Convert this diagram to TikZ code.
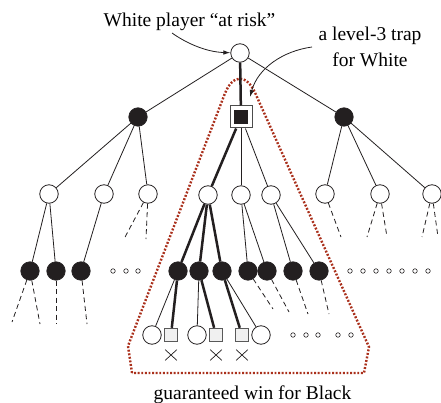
\documentclass[tikz,border=0pt]{standalone}
\usepackage{fontspec}
\setmainfont{Liberation Serif}
\usetikzlibrary{arrows.meta,shapes.misc}
\definecolor{trapred}{RGB}{170,48,28}
\definecolor{nodeblack}{RGB}{35,31,32}
\begin{document}
\begin{tikzpicture}[x=1pt,y=-1pt,
 wn/.style={circle,draw=nodeblack,fill=white,line width=0.8pt,minimum size=18.5pt,inner sep=0pt},
 bn/.style={circle,draw=nodeblack,fill=nodeblack,line width=0.6pt,minimum size=18.5pt,inner sep=0pt},
 dotn/.style={circle,draw=nodeblack,fill=white,line width=0.6pt,minimum size=4.5pt,inner sep=0pt},
 lsq/.style={rectangle,draw=black!65,fill=black!6,line width=0.9pt,minimum size=13.5pt,inner sep=0pt},
 trapsq/.style={rectangle,draw=black!70,fill=white,line width=1pt,minimum size=22pt,inner sep=0pt},
 trapin/.style={rectangle,fill=nodeblack,minimum size=14.5pt,inner sep=0pt},
 xmark/.style={cross out,draw=nodeblack,line width=0.7pt,minimum width=11pt,minimum height=10pt,inner sep=0pt},
 thinedge/.style={draw=nodeblack,line width=0.8pt},
 thickedge/.style={draw=nodeblack,line width=2.5pt},
 dashedge/.style={draw=nodeblack,line width=0.8pt,dash pattern=on 5pt off 3.5pt},
 lbl/.style={font=\fontsize{19.5}{23}\selectfont,inner sep=0pt,anchor=base},
 callout/.style={draw=nodeblack,line width=0.8pt,-{Latex[length=7pt,width=4.5pt]}},
 trapline/.style={draw=trapred,line width=2.4pt,dash pattern=on 1.9pt off 1.7pt},
]
\fill[white] (0,0) rectangle (441,403);
\useasboundingbox (0,0) rectangle (441,403);

% trap region outline
\draw[trapline] (132,373) -- (128,346) -- (224.6,94.3)
  .. controls (232.5,73.8) and (246.4,73.4) .. (255.4,93.5)
  -- (369,347) -- (364,373) -- cycle;

% nodes
\node[wn] (root) at (240,53) {};
\node[bn] (b1) at (138,117) {};
\node[trapsq] (sq) at (241,117) {};
\node[trapin] (sqin) at (241,117) {};
\node[bn] (b2) at (344,117) {};

\node[wn] (w1) at (49,194) {};
\node[wn] (w2) at (104,194) {};
\node[wn] (w3) at (148,194) {};
\node[wn] (w4) at (208,195) {};
\node[wn] (w5) at (241,195) {};
\node[wn] (w6) at (271,195) {};
\node[wn] (w7) at (325,194) {};
\node[wn] (w8) at (380,194) {};
\node[wn] (w9) at (432,194) {};

\node[bn] (k1) at (30,271) {};
\node[bn] (k2) at (56,271) {};
\node[bn] (k3) at (81,271) {};
\node[bn] (k4) at (178,271) {};
\node[bn] (k5) at (199,271) {};
\node[bn] (k6) at (222,271) {};
\node[bn] (k7) at (248,271) {};
\node[bn] (k8) at (267,271) {};
\node[bn] (k9) at (293,271) {};
\node[bn] (k10) at (319,271) {};

\node[dotn] (da1) at (113,271) {};
\node[dotn] (da2) at (126,271) {};
\node[dotn] (da3) at (138,271) {};
\node[dotn] (db1) at (350,271) {};
\node[dotn] (db2) at (363,271) {};
\node[dotn] (db3) at (376,271) {};
\node[dotn] (db4) at (389,271) {};
\node[dotn] (db5) at (402,271) {};
\node[dotn] (db6) at (415,271) {};
\node[dotn] (db7) at (428,271) {};

\node[wn] (c1) at (152,335) {};
\node[lsq] (s1) at (171,335) {};
\node[wn] (c2) at (197,335) {};
\node[lsq] (s2) at (216,335) {};
\node[lsq] (s3) at (242,335) {};
\node[wn] (c3) at (261,335) {};

\node[dotn] (dc1) at (293,335) {};
\node[dotn] (dc2) at (306,335) {};
\node[dotn] (dc3) at (318,335) {};
\node[dotn] (dc4) at (338,335) {};
\node[dotn] (dc5) at (351,335) {};

\node[xmark] (x1) at (171,355) {};
\node[xmark] (x2) at (216,355) {};
\node[xmark] (x3) at (242,355) {};

% edges
\draw[thinedge] (root) -- (b1);
\draw[thickedge] (root) -- (sq);
\draw[thinedge] (root) -- (b2);

\draw[thinedge] (b1) -- (w1);
\draw[thinedge] (b1) -- (w2);
\draw[thinedge] (b1) -- (w3);
\draw[thickedge] (sq) -- (w4);
\draw[thinedge] (sq) -- (w5);
\draw[thinedge] (sq) -- (w6);
\draw[thinedge] (b2) -- (w7);
\draw[thinedge] (b2) -- (w8);
\draw[thinedge] (b2) -- (w9);

\draw[thinedge] (w1) -- (k1);
\draw[thinedge] (w1) -- (k2);
\draw[thinedge] (w2) -- (k3);
\draw[thickedge] (w4) -- (k4);
\draw[thickedge] (w4) -- (k5);
\draw[thickedge] (w4) -- (k6);
\draw[thinedge] (w5) -- (k7);
\draw[thinedge] (w5) -- (k8);
\draw[thinedge] (w6) -- (k9);
\draw[thinedge] (w6) -- (k10);

\draw[thinedge] (k4) -- (c1);
\draw[thickedge] (k4) -- (s1);
\draw[thinedge] (k5) -- (c2);
\draw[thickedge] (k5) -- (s2);
\draw[thickedge] (k6) -- (s3);
\draw[thinedge] (k6) -- (c3);

% dashed continuations
\coordinate (e1) at (124,239);
\coordinate (e2) at (146,239);
\coordinate (e3) at (341,237);
\coordinate (e4) at (367,237);
\coordinate (e5) at (387,237);
\coordinate (e6) at (422,237);
\coordinate (e7) at (438,237);
\coordinate (f1) at (12,322);
\coordinate (f2) at (40,324);
\coordinate (f3) at (56,324);
\coordinate (f4) at (87,324);
\coordinate (f5) at (273,309);
\coordinate (f6) at (289,312);
\coordinate (f7) at (308,314);
\coordinate (f8) at (329,314);
\draw[dashedge] (w3) -- (e1);
\draw[dashedge] (w3) -- (e2);
\draw[dashedge] (w7) -- (e3);
\draw[dashedge] (w8) -- (e4);
\draw[dashedge] (w8) -- (e5);
\draw[dashedge] (w9) -- (e6);
\draw[dashedge] (w9) -- (e7);
\draw[dashedge] (k1) -- (f1);
\draw[dashedge] (k1) -- (f2);
\draw[dashedge] (k2) -- (f3);
\draw[dashedge] (k3) -- (f4);
\draw[dashedge] (k7) -- (f5);
\draw[dashedge] (k8) -- (f6);
\draw[dashedge] (k9) -- (f7);
\draw[dashedge] (k10) -- (f8);

% labels
\node[lbl] (tw) at (189.5,27) {White player “at risk”};
\node[lbl] (tt1) at (370,41) {a level-3 trap};
\node[lbl] (tt2) at (370,67) {for White};
\node[lbl] (tb) at (252.5,399) {guaranteed win for Black};

% callout arrows
\coordinate (wa) at (172,33);
\draw[callout] (wa) .. controls (186,43) and (206,52) .. (root);
\coordinate (ta) at (312,47);
\coordinate (traptip) at (250,97);
\draw[callout] (ta) .. controls (283,51) and (258,68) .. (traptip);
\end{tikzpicture}
\end{document}
